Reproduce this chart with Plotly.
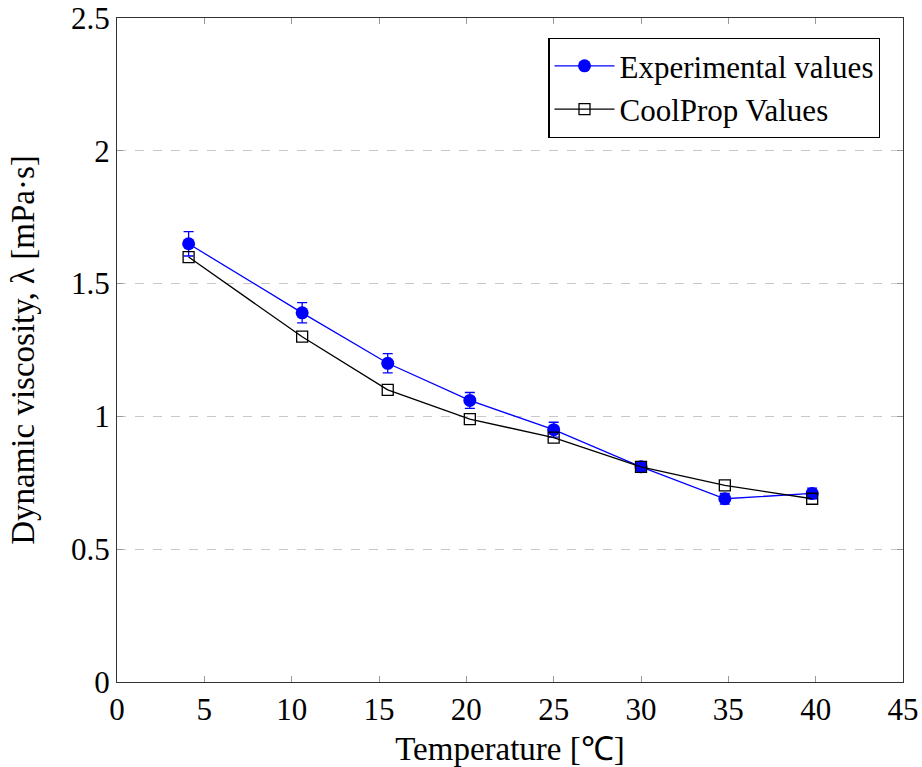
import plotly.graph_objects as go

temp = [4.1, 10.6, 15.5, 20.2, 25.0, 30.0, 34.8, 39.8]
exp_vals = [1.65, 1.39, 1.20, 1.06, 0.95, 0.81, 0.69, 0.71]
exp_err = [0.046, 0.038, 0.036, 0.03, 0.028, 0.015, 0.02, 0.02]
coolprop_vals = [1.60, 1.30, 1.10, 0.99, 0.92, 0.81, 0.74, 0.69]

x_ticks = list(range(0, 50, 5))
y_ticks = [0, 0.5, 1, 1.5, 2, 2.5]
y_tick_labels = ["0", "0.5", "1", "1.5", "2", "2.5"]

FONT = "Liberation Serif"
FS = 31

fig = go.Figure()
fig.add_trace(go.Scatter(
    x=temp, y=exp_vals, mode="lines+markers", name="Experimental values",
    line=dict(color="#0000ff", width=1.3),
    marker=dict(symbol="circle", size=13, color="#0000ff"),
    error_y=dict(type="data", array=exp_err, visible=True, color="#0000ff",
                 thickness=1.3, width=5),
))
fig.add_trace(go.Scatter(
    x=temp, y=coolprop_vals, mode="lines+markers", name="CoolProp Values",
    line=dict(color="black", width=1.3),
    marker=dict(symbol="square-open", size=11, color="black",
                line=dict(width=1.3, color="black")),
))

axis_common = dict(
    showline=True, linecolor="#333333", linewidth=1.3, mirror="ticks",
    ticks="inside", ticklen=6, tickcolor="#999999", tickwidth=1,
    tickfont=dict(family=FONT, size=FS, color="black"),
    zeroline=False, automargin=False,
)

fig.update_layout(
    width=922, height=767,
    margin=dict(l=117, r=19, t=18, b=85),
    paper_bgcolor="white", plot_bgcolor="white",
    font=dict(family=FONT, color="black"),
    showlegend=True,
    legend=dict(
        x=0.971, y=0.970, xanchor="right", yanchor="top",
        bgcolor="white", bordercolor="black", borderwidth=1.3,
        font=dict(family=FONT, size=31, color="black"),
        tracegroupgap=0, itemwidth=60,
    ),
    xaxis=dict(
        range=[0, 45], tickvals=x_ticks, showgrid=False,
        title=dict(text="Temperature [℃]", font=dict(family=FONT, size=33), standoff=12),
        **axis_common,
    ),
    yaxis=dict(
        range=[0, 2.5], tickvals=y_ticks, ticktext=y_tick_labels,
        showgrid=True, gridcolor="#c8c8c8", griddash="dash", gridwidth=1,
        title=dict(text="Dynamic viscosity, λ [mPa·s]", font=dict(family=FONT, size=33), standoff=26),
        **axis_common,
    ),
)

fig.write_html("out.html")
